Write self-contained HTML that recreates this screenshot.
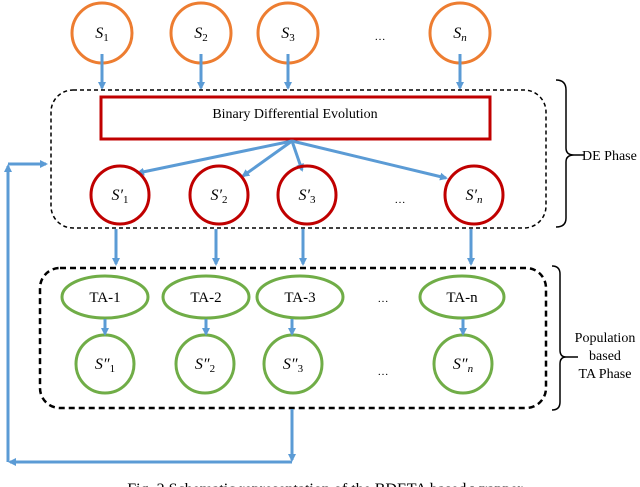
<!DOCTYPE html>
<html><head><meta charset="utf-8"><style>
html,body{margin:0;padding:0;background:#fff;}
svg{display:block;font-family:"Liberation Serif",serif;}
</style></head><body>
<svg width="640" height="487" viewBox="0 0 640 487" xmlns="http://www.w3.org/2000/svg">
<defs>
<marker id="a" markerWidth="8" markerHeight="8" refX="6" refY="4" orient="auto" markerUnits="userSpaceOnUse"><path d="M0,0 L8,4 L0,8 z" fill="#5b9bd5"/></marker>
</defs>
<g fill="none" stroke="#ed7d31" stroke-width="3">
<circle cx="102" cy="33" r="30"/><circle cx="201" cy="33" r="30"/><circle cx="288" cy="33" r="30"/><circle cx="460" cy="33" r="30"/>
</g>
<g font-style="italic" font-size="16" text-anchor="middle">
<text x="102" y="38">S<tspan font-size="11" dy="3" font-style="normal">1</tspan></text>
<text x="201" y="38">S<tspan font-size="11" dy="3" font-style="normal">2</tspan></text>
<text x="288" y="38">S<tspan font-size="11" dy="3" font-style="normal">3</tspan></text>
<text x="460" y="38">S<tspan font-size="11" dy="3">n</tspan></text>
</g>
<text x="380" y="40" font-size="11" text-anchor="middle">…</text>
<g stroke="#5b9bd5" stroke-width="3" fill="none" marker-end="url(#a)">
<line x1="102" y1="54" x2="102" y2="88"/><line x1="201" y1="54" x2="201" y2="88"/><line x1="288" y1="54" x2="288" y2="88"/><line x1="460" y1="54" x2="460" y2="88"/>
</g>
<rect x="51" y="90" width="495" height="138" rx="22" fill="none" stroke="#000" stroke-width="1.5" stroke-dasharray="4,3"/>
<rect x="101" y="97" width="389" height="42" fill="none" stroke="#c00000" stroke-width="3"/>
<text x="295" y="118" font-size="14" text-anchor="middle">Binary Differential Evolution</text>
<g stroke="#5b9bd5" stroke-width="3" fill="none" marker-end="url(#a)">
<line x1="292" y1="141" x2="138" y2="173"/><line x1="292" y1="141" x2="243" y2="176"/><line x1="292" y1="141" x2="302" y2="170"/><line x1="292" y1="141" x2="446" y2="178"/>
</g>
<g fill="none" stroke="#c00000" stroke-width="3">
<circle cx="120" cy="195" r="29"/><circle cx="219" cy="195" r="29"/><circle cx="307" cy="195" r="29"/><circle cx="474" cy="195" r="29"/>
</g>
<g font-style="italic" font-size="16" text-anchor="middle">
<text x="120" y="200">S′<tspan font-size="11" dy="3" font-style="normal">1</tspan></text>
<text x="219" y="200">S′<tspan font-size="11" dy="3" font-style="normal">2</tspan></text>
<text x="307" y="200">S′<tspan font-size="11" dy="3" font-style="normal">3</tspan></text>
<text x="474" y="200">S′<tspan font-size="11" dy="3">n</tspan></text>
</g>
<text x="400" y="203" font-size="11" text-anchor="middle">…</text>
<path d="M556,80 Q566,80 566,90 L566,148 Q566,155 574,155 Q566,155 566,162 L566,218 Q566,227 556,227" fill="none" stroke="#000" stroke-width="1.5"/>
<line x1="574" y1="155" x2="584" y2="155" stroke="#000" stroke-width="1.5"/>
<text x="582" y="160" font-size="14">DE Phase</text>
<g stroke="#5b9bd5" stroke-width="3" fill="none" marker-end="url(#a)">
<line x1="116" y1="229" x2="116" y2="264"/><line x1="216" y1="229" x2="216" y2="264"/><line x1="303" y1="229" x2="303" y2="264"/><line x1="471" y1="229" x2="471" y2="264"/>
</g>
<rect x="40" y="268" width="506" height="140" rx="20" fill="none" stroke="#000" stroke-width="2.5" stroke-dasharray="6,4"/>
<g fill="none" stroke="#70ad47" stroke-width="3">
<ellipse cx="105" cy="297" rx="43" ry="21"/><ellipse cx="206" cy="297" rx="43" ry="21"/><ellipse cx="300" cy="297" rx="43" ry="21"/><ellipse cx="462" cy="297" rx="42" ry="21"/>
<circle cx="105" cy="364" r="29"/><circle cx="205" cy="364" r="29"/><circle cx="293" cy="364" r="29"/><circle cx="463" cy="364" r="29"/>
</g>
<g font-size="15" text-anchor="middle">
<text x="105" y="302">TA-1</text><text x="206" y="302">TA-2</text><text x="300" y="302">TA-3</text><text x="462" y="302">TA-n</text>
</g>
<text x="383" y="302" font-size="11" text-anchor="middle">…</text>
<text x="383" y="375" font-size="11" text-anchor="middle">…</text>
<g font-style="italic" font-size="16" text-anchor="middle">
<text x="105" y="369">S″<tspan font-size="11" dy="3" font-style="normal">1</tspan></text>
<text x="205" y="369">S″<tspan font-size="11" dy="3" font-style="normal">2</tspan></text>
<text x="293" y="369">S″<tspan font-size="11" dy="3" font-style="normal">3</tspan></text>
<text x="463" y="369">S″<tspan font-size="11" dy="3">n</tspan></text>
</g>
<g stroke="#5b9bd5" stroke-width="3" fill="none" marker-end="url(#a)">
<line x1="105" y1="319" x2="105" y2="334"/><line x1="206" y1="319" x2="206" y2="334"/><line x1="292" y1="319" x2="292" y2="334"/><line x1="463" y1="319" x2="463" y2="334"/>
<polyline points="292,409 292,460"/>
<polyline points="292,462 10,462"/>
<polyline points="8,462 8,166"/>
<polyline points="8,164 46,164"/>
</g>
<path d="M552,266 Q560,266 560,274 L560,350 Q560,357 566,357 Q560,357 560,364 L560,402 Q560,410 552,410" fill="none" stroke="#000" stroke-width="1.5"/>
<line x1="566" y1="357" x2="578" y2="357" stroke="#000" stroke-width="1.5"/>
<g font-size="14" text-anchor="middle">
<text x="605" y="342">Population</text><text x="605" y="360">based</text><text x="605" y="378">TA Phase</text>
</g>
<text x="325" y="494" font-size="16" text-anchor="middle">Fig. 2 Schematic representation of the BDETA based wrapper</text>
</svg>
</body></html>
